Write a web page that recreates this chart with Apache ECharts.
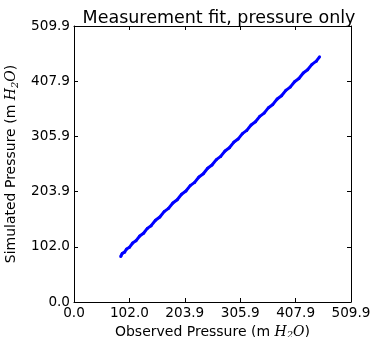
<!DOCTYPE html>
<html><head><meta charset="utf-8">
<script src="https://cdn.jsdelivr.net/npm/echarts@6/dist/echarts.min.js"></script>
<style>html,body{margin:0;padding:0;background:#fff}#c{width:373px;height:337px}</style>
</head><body><div id="c"></div>
<script>
var observed = [86, 89, 93, 97, 102, 108, 114, 121, 128, 135, 142, 150, 158, 166, 174, 182, 190, 198, 206, 214, 222, 230, 238, 246, 254, 262, 270, 278, 286, 294, 302, 310, 318, 326, 334, 342, 350, 358, 366, 374, 382, 390, 398, 406, 414, 422, 430, 438, 446, 452];
var simulated = [84, 90, 92, 98, 101, 109, 113, 122, 127, 136, 141, 151, 157, 167, 173, 183, 189, 199, 205, 215, 221, 231, 237, 247, 253, 263, 269, 279, 285, 295, 301, 311, 317, 327, 333, 343, 349, 359, 365, 375, 381, 391, 397, 407, 413, 423, 429, 439, 445, 453];
var tickLabels = ['0.0', '102.0', '203.9', '305.9', '407.9', '509.9'];
var axisMax = 509.9;
var tickStep = 101.98;

var pts = observed.map(function (v, i) { return [v, simulated[i]]; });
function fmt(v) { var i = Math.round(v / tickStep); return tickLabels[i] !== undefined ? tickLabels[i] : ''; }
var font = 'DejaVu Sans';
var rich = { i: { fontStyle: 'italic', fontFamily: 'DejaVu Serif', fontSize: 14, color: '#000' }, s: { fontStyle: 'italic', fontFamily: 'DejaVu Serif', fontSize: 10, color: '#000', padding: [8, 0, 0, 0] } };
function axisBase(pos, show) {
  return {
    type: 'value', min: 0, max: axisMax, interval: tickStep, position: pos,
    axisLine: { show: true, onZero: false, lineStyle: { color: '#000', width: 1 } },
    axisTick: { show: true, inside: true, length: 4, lineStyle: { color: '#000' } },
    axisLabel: { show: show, formatter: fmt, color: '#000', fontFamily: font, fontSize: 13.6, margin: 4, showMaxLabel: true, showMinLabel: true },
    splitLine: { show: false }
  };
}
var xBottom = axisBase('bottom', true);
xBottom.name = 'Observed Pressure (m {i|H}{s|2}{i|O})';
xBottom.nameLocation = 'middle'; xBottom.nameGap = 20;
xBottom.nameTextStyle = { color: '#000', fontFamily: font, fontSize: 14, rich: rich };
var xTop = axisBase('top', false);
var yLeft = axisBase('left', true);
yLeft.name = 'Simulated Pressure (m {i|H}{s|2}{i|O})';
yLeft.nameLocation = 'middle'; yLeft.nameGap = 44;
yLeft.nameTextStyle = { color: '#000', fontFamily: font, fontSize: 14, rich: rich };
var yRight = axisBase('right', false);

var chart = echarts.init(document.getElementById('c'));
chart.setOption({
  animation: false,
  title: { text: 'Measurement fit, pressure only', left: 214, textAlign: 'center', top: 4, textStyle: { fontFamily: font, fontSize: 17.5, fontWeight: 'normal', color: '#000' } },
  grid: { left: 74, top: 26, width: 277, height: 276, containLabel: false, outerBoundsMode: 'none' },
  xAxis: [xBottom, xTop],
  yAxis: [yLeft, yRight],
  series: [{
    type: 'line', data: pts, xAxisIndex: 0, yAxisIndex: 0,
    symbol: 'circle', symbolSize: 3, showSymbol: true,
    itemStyle: { color: '#0000ff' },
    lineStyle: { color: '#0000ff', width: 3 }
  }]
});
</script></body></html>
